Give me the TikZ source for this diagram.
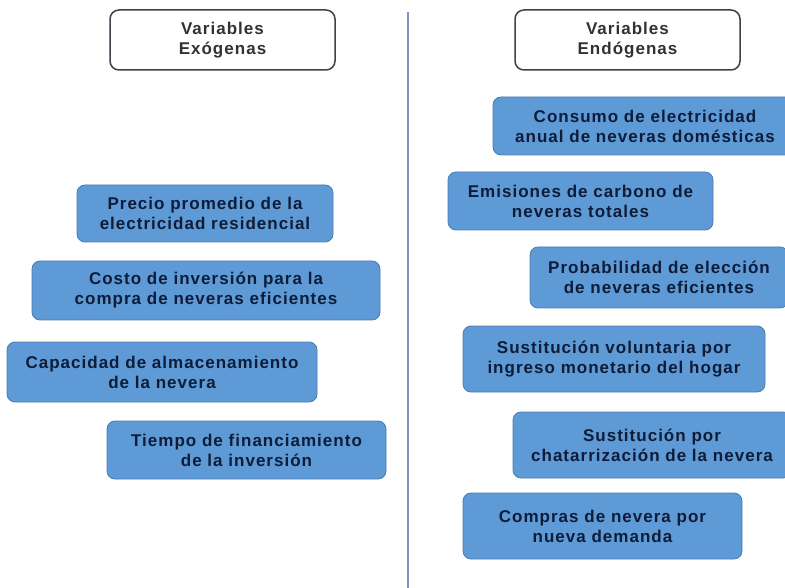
\documentclass[tikz,border=0pt]{standalone}
\usepackage{fontspec}
\setmainfont{Liberation Sans}[LetterSpace=6]
\usepackage{tikz}
\definecolor{boxblue}{RGB}{94,154,214}
\definecolor{boxline}{RGB}{74,124,180}
\definecolor{boxtext}{RGB}{14,28,56}
\definecolor{headline}{RGB}{60,66,76}
\definecolor{headtext}{RGB}{50,50,50}
\definecolor{divider}{RGB}{120,150,190}

\begin{document}
\begin{tikzpicture}
  [x=1pt,y=-1pt,font=\fontsize{17}{20}\selectfont\bfseries]
      \tikzstyle{head_style} = [fill=white, draw=headline, line width=1.5, rounded corners=9, align=center, text=headtext, minimum width=225, minimum height=60]
      \tikzstyle{var_style} = [fill=boxblue, draw=boxline, line width=0.8, rounded corners=8, align=center, text=boxtext]
  \useasboundingbox (0,0) rectangle (785,588);

  \node[head_style] (exo) at (222.5,40) {Variables\\Exógenas};
  \node[head_style] (endo) at (627.5,40) {Variables\\Endógenas};

  \coordinate (d_top) at (408,12);
  \coordinate (d_bot) at (408,588);
  \draw[draw=divider, line width=2] (d_top) -- (d_bot);

  \node[var_style, minimum width=256, minimum height=57] (precio) at (205,213.5) {Precio promedio de la\\electricidad residencial};
  \node[var_style, minimum width=348, minimum height=59] (costo) at (206,290.5) {Costo de inversión para la\\compra de neveras eficientes};
  \node[var_style, minimum width=310, minimum height=60] (capac) at (162,372) {Capacidad de almacenamiento\\de la nevera};
  \node[var_style, minimum width=279, minimum height=58] (tiempo) at (246.5,450) {Tiempo de financiamiento\\de la inversión};

  \node[var_style, minimum width=304, minimum height=58] (consumo) at (645,126) {Consumo de electricidad\\anual de neveras domésticas};
  \node[var_style, minimum width=265, minimum height=58] (emision) at (580.5,201) {Emisiones de carbono de\\neveras totales};
  \node[var_style, minimum width=258, minimum height=61] (probab) at (659,277.5) {Probabilidad de elección\\de neveras eficientes};
  \node[var_style, minimum width=302, minimum height=66] (sustvol) at (614,359) {Sustitución voluntaria por\\ingreso monetario del hogar};
  \node[var_style, minimum width=278, minimum height=66] (sustcha) at (652,445) {Sustitución por\\chatarrización de la nevera};
  \node[var_style, minimum width=279, minimum height=66] (compras) at (602.5,526) {Compras de nevera por\\nueva demanda};
\end{tikzpicture}
\end{document}
